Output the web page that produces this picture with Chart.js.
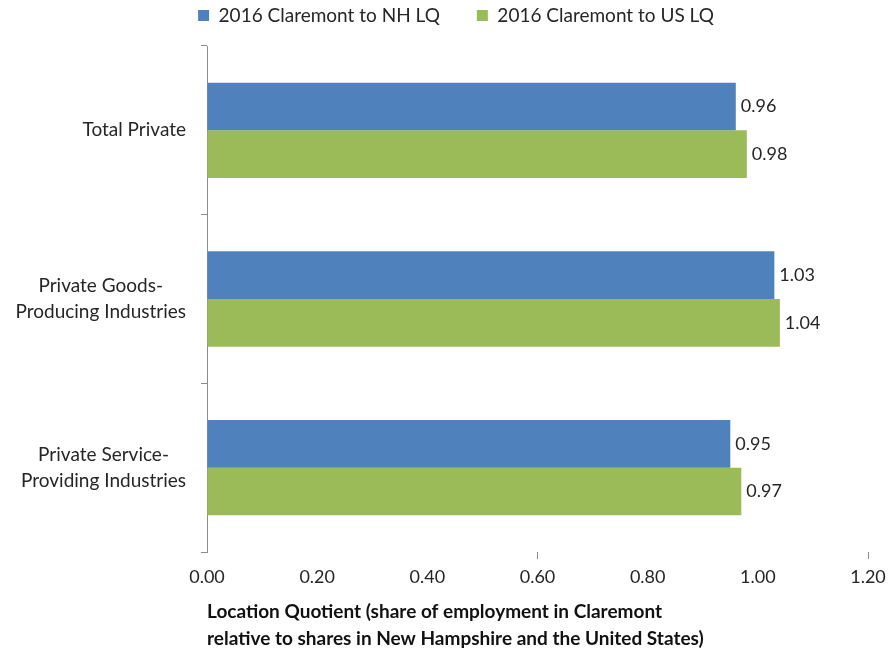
<!DOCTYPE html>
<html>
<head>
<meta charset="utf-8">
<title>Claremont Location Quotients</title>
<script src="https://cdn.jsdelivr.net/npm/chart.js@4.4.1/dist/chart.umd.min.js"></script>
<style>
  html, body { margin: 0; padding: 0; background: #ffffff; }
  #wrap { width: 888px; height: 657px; position: relative; }
</style>
</head>
<body>
<div id="wrap"><canvas id="lqChart" width="888" height="657"></canvas></div>
<script>
// Location quotients for Claremont, 2016
const industries = [
    ['Total Private'],
    ['Private Goods-', 'Producing Industries'],
    ['Private Service-', 'Providing Industries']
];
const nhLabel = '2016 Claremont to NH LQ';
const usLabel = '2016 Claremont to US LQ';
const nhValues = [0.96, 1.03, 0.95];
const usValues = [0.98, 1.04, 0.97];
const xTicks = [0, 0.2, 0.4, 0.6, 0.8, 1.0, 1.2];
const xTitle = [
    'Location Quotient (share of employment in Claremont',
    'relative to shares in New Hampshire and the United States)'
];

const BLUE = '#4f81bd';
const GREEN = '#9bbb59';
const AXIS = '#8c8c8c';
const TEXT = '#262626';
const FONT = 'Lato, "Open Sans", sans-serif';

// legend: wide item spacing, a bit of air below it, nudged right over the plot
const legendTweak = {
    id: 'legendTweak',
    beforeInit(chart) {
        const fit = chart.legend.fit;
        chart.legend.fit = function () {
            fit.call(this);
            this.height += 11;
        };
    },
    afterLayout(chart) {
        chart.legend.left += 22;
        chart.legend.right += 22;
    }
};

// value labels just past the end of each bar
const barValues = {
    id: 'barValues',
    afterDatasetsDraw(chart) {
        const ctx = chart.ctx;
        ctx.save();
        ctx.font = '18px ' + FONT;
        ctx.fillStyle = TEXT;
        ctx.textAlign = 'left';
        ctx.textBaseline = 'middle';
        chart.data.datasets.forEach((ds, i) => {
            chart.getDatasetMeta(i).data.forEach((bar, j) => {
                ctx.fillText(ds.data[j].toFixed(2), bar.x + 5, bar.y);
            });
        });
        ctx.restore();
    }
};

// category names: block right-aligned against the axis, lines centred in the block
const categoryNames = {
    id: 'categoryNames',
    afterDraw(chart) {
        const ctx = chart.ctx;
        const y = chart.scales.y;
        const right = y.right - 21;
        const lh = 26;
        ctx.save();
        ctx.font = '19px ' + FONT;
        ctx.fillStyle = TEXT;
        ctx.textAlign = 'center';
        ctx.textBaseline = 'middle';
        industries.forEach((lines, i) => {
            const w = Math.max(...lines.map(l => ctx.measureText(l).width));
            const cx = right - w / 2;
            const cy = y.getPixelForTick(i);
            lines.forEach((l, k) => {
                ctx.fillText(l, cx, cy + (k - (lines.length - 1) / 2) * lh);
            });
        });
        ctx.restore();
    }
};

const ctx = document.getElementById('lqChart').getContext('2d');
new Chart(ctx, {
    type: 'bar',
    data: {
        labels: industries,
        datasets: [
            { label: nhLabel, data: nhValues, backgroundColor: BLUE },
            { label: usLabel, data: usValues, backgroundColor: GREEN }
        ]
    },
    options: {
        indexAxis: 'y',
        responsive: false,
        animation: false,
        devicePixelRatio: 1,
        layout: { padding: { top: -31, right: 20, bottom: 0, left: 0 } },
        datasets: {
            bar: { categoryPercentage: 0.565, barPercentage: 1.0 }
        },
        plugins: {
            legend: {
                position: 'top',
                labels: {
                    color: TEXT,
                    font: { family: FONT, size: 19 },
                    boxWidth: 11,
                    boxHeight: 11,
                    padding: 37
                }
            },
            tooltip: { enabled: false }
        },
        scales: {
            x: {
                min: 0,
                max: 1.2,
                afterBuildTicks: (scale) => {
                    scale.ticks = xTicks.map(v => ({ value: v }));
                },
                afterFit: (scale) => {
                    scale.height = 105;
                    scale.paddingLeft = 0;
                    scale.paddingRight = 0;
                },
                border: { display: false },
                grid: {
                    drawOnChartArea: false,
                    tickLength: 7,
                    color: (c) => (c.tick && (Math.abs(c.tick.value - 0.6) < 1e-6 || Math.abs(c.tick.value - 1.2) < 1e-6)) ? AXIS : 'rgba(0,0,0,0)'
                },
                ticks: {
                    color: TEXT,
                    font: { family: FONT, size: 18 },
                    padding: 7,
                    maxRotation: 0,
                    callback: (v) => Number(v).toFixed(2)
                },
                title: {
                    display: true,
                    text: xTitle,
                    align: 'start',
                    color: '#111111',
                    font: { family: FONT, size: 19, weight: 'bold', lineHeight: 1.45 },
                    padding: { top: 0, bottom: 4 }
                }
            },
            y: {
                afterFit: (scale) => { scale.width = 207; },
                border: { display: true, color: AXIS, width: 1 },
                grid: {
                    offset: true,
                    drawOnChartArea: false,
                    tickLength: 6,
                    color: AXIS
                },
                ticks: { display: false }
            }
        }
    },
    plugins: [legendTweak, barValues, categoryNames]
});
</script>
</body>
</html>
